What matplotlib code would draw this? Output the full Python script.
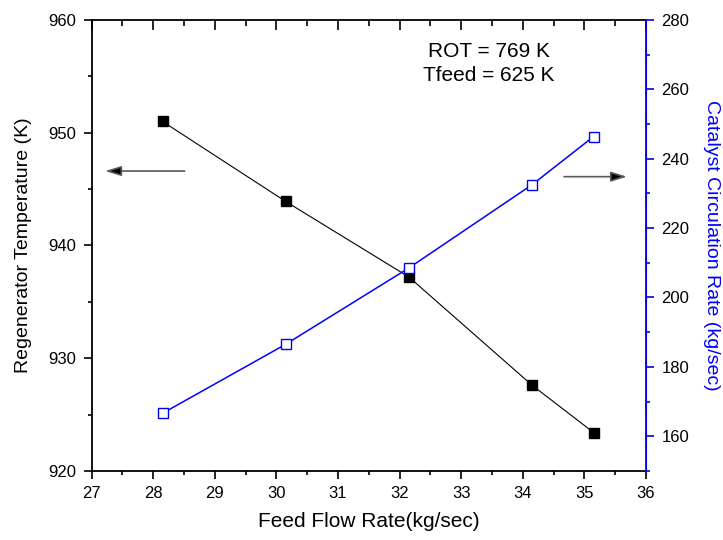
import matplotlib
matplotlib.use('Agg')
import matplotlib.pyplot as plt
from matplotlib.ticker import MultipleLocator

plt.rcParams['font.family'] = ['Liberation Sans', 'DejaVu Sans']

feed_rate = [28.15, 30.15, 32.15, 34.15, 35.15]
regen_temp = [951.0, 943.9, 937.2, 927.6, 923.4]
cat_circ = [166.6, 186.5, 208.5, 232.5, 246.4]

fig = plt.figure(figsize=(7.23, 5.40), dpi=100)
ax = fig.add_axes([0.1268, 0.128, 0.7667, 0.835])
ax2 = ax.twinx()

ax.plot(feed_rate, regen_temp, color='black', lw=0.8, marker='s', ms=7,
        mfc='black', mec='black', zorder=3)
ax2.plot(feed_rate, cat_circ, color='blue', lw=1.1, marker='s', ms=7,
         mfc='white', mec='blue', mew=1.0, zorder=3)

ax.set_xlim(27, 36)
ax.set_ylim(920, 960)
ax2.set_ylim(150, 280)

ax.xaxis.set_major_locator(MultipleLocator(1))
ax.xaxis.set_minor_locator(MultipleLocator(0.5))
ax.yaxis.set_major_locator(MultipleLocator(10))
ax.yaxis.set_minor_locator(MultipleLocator(5))
ax2.yaxis.set_major_locator(MultipleLocator(20))
ax2.yaxis.set_minor_locator(MultipleLocator(10))

ax.tick_params(axis='x', which='major', direction='out', length=6, width=1.2,
               labelsize=12, top=True, pad=5)
ax.tick_params(axis='x', which='minor', direction='out', length=3, width=1.2, top=True)
ax.tick_params(axis='y', which='major', direction='out', length=6, width=1.2,
               labelsize=12, pad=5)
ax.tick_params(axis='y', which='minor', direction='out', length=3, width=1.2)
# top ticks point inward
for t in ax.xaxis.get_major_ticks():
    t.tick2line.set_marker(3)
    t.tick2line.set_markersize(7)
for t in ax.xaxis.get_minor_ticks():
    t.tick2line.set_marker(3)
    t.tick2line.set_markersize(4)

ax2.tick_params(axis='y', which='major', direction='out', length=6, width=1.2,
                color='blue', labelcolor='black', labelsize=12, pad=5)
ax2.tick_params(axis='y', which='minor', direction='out', length=3, width=1.2, color='blue')

for s in ['left', 'bottom', 'top']:
    ax.spines[s].set_linewidth(1.3)
ax2.spines['right'].set_color('blue')
ax2.spines['right'].set_linewidth(1.3)
ax2.spines['left'].set_visible(False)
ax2.spines['top'].set_visible(False)
ax2.spines['bottom'].set_visible(False)

ax.set_xlabel('Feed Flow Rate(kg/sec)', fontsize=15, labelpad=8)
ax.set_ylabel('Regenerator Temperature (K)', fontsize=14, labelpad=12)
ax2.set_ylabel('Catalyst Circulation Rate (kg/sec)', fontsize=14, color='blue',
               rotation=270, labelpad=22)

ax.text(0.717, 0.931, 'ROT = 769 K', transform=ax.transAxes, fontsize=15,
        ha='center', va='center')
ax.text(0.717, 0.876, 'Tfeed = 625 K', transform=ax.transAxes, fontsize=15,
        ha='center', va='center')

arrow_kw = dict(arrowstyle='-|>,head_length=0.8,head_width=0.25', ec='0.35',
                fc='black', lw=1.2, shrinkA=0, shrinkB=0, mutation_scale=12)
ax.annotate('', xy=(27.22, 946.6), xytext=(28.51, 946.6), arrowprops=arrow_kw)
ax.annotate('', xy=(35.69, 946.1), xytext=(34.67, 946.1), arrowprops=arrow_kw)

fig.savefig('out.png', dpi=100)
